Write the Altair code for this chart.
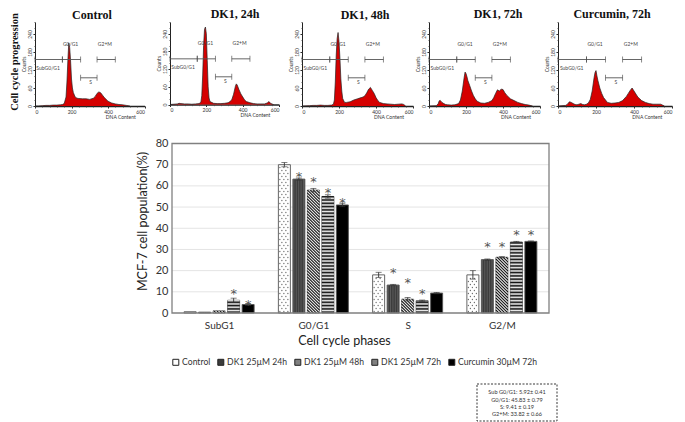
import json
import altair as alt
import pandas as pd

# ---------- flow cytometry histograms ----------
panel_titles = ["Control", "DK1, 24h", "DK1, 48h", "DK1, 72h", "Curcumin, 72h"]
dna_control = [0,20,40,60,80,100,120,140,150,160,170,175,180,185,190,195,200,205,210,220,230,240,260,280,300,320,330,340,350,360,370,380,400,420,440,460,480,500,510,520]
cnt_control = [0,0,1,2,2,3,3,4,5,8,30,80,150,210,195,150,90,60,45,30,26,25,24,24,22,26,32,42,47,44,36,28,16,10,7,5,4,2,1,0]
dna_24 = [0,20,40,50,60,80,100,120,140,160,170,175,180,185,190,195,200,205,210,215,220,240,260,280,300,320,330,340,350,360,365,370,380,390,400,410,420,440,460,480,500,520,535,545,555,570]
cnt_24 = [0,1,2,4,3,2,2,1,2,3,8,30,100,200,255,263,240,150,60,22,10,4,3,3,4,6,10,16,35,62,70,66,50,36,26,16,10,6,3,2,2,2,5,10,3,0]
dna_48 = [0,40,60,80,100,120,140,160,170,175,180,185,190,195,200,205,210,215,220,230,240,260,280,300,320,330,340,350,360,370,380,390,400,410,420,440,460,480,500,520,540,550,560]
cnt_48 = [0,1,2,2,3,2,2,3,6,20,80,170,225,245,215,160,90,50,25,12,12,14,20,24,28,30,34,44,56,62,52,42,28,18,12,8,7,6,5,6,7,5,0]
dna_72 = [0,40,50,55,60,70,80,90,100,120,140,160,170,180,190,195,200,205,210,220,230,240,250,260,280,300,320,340,350,360,370,380,390,400,410,420,440,460,480,500,520,540,560]
cnt_72 = [0,1,8,17,19,12,8,5,4,3,4,8,20,50,95,113,108,98,85,68,50,35,24,16,10,9,12,18,28,42,54,50,56,55,44,36,24,18,12,8,5,3,0]
dna_cur = [0,40,50,60,70,80,90,100,110,120,130,140,150,160,170,180,190,195,200,205,210,220,230,240,250,260,280,300,320,340,360,370,380,390,400,410,420,440,460,480,500,520,540,550,560]
cnt_cur = [0,2,6,14,12,8,5,4,6,8,5,4,6,10,22,50,95,112,118,100,85,60,42,28,20,12,9,10,12,18,32,42,52,60,50,40,30,18,12,8,6,6,6,3,0]
hist_dna = [dna_control, dna_24, dna_48, dna_72, dna_cur]
hist_cnt = [cnt_control, cnt_24, cnt_48, cnt_72, cnt_cur]

gate_start = [0, 150, 250, 340]
gate_end = [150, 250, 340, 440]
gate_level = [155, 155, 94, 155]
gate_names = ["SubG0/G1", "G0/G1", "S", "G2+M"]
gate_label_x = [72, 195, 305, 383]
gate_label_y = [127, 208, 80, 208]

# pixel placement of each small panel: x at DNA 0, x at DNA 600, y at count 0
panel_x0 = [35, 170, 302, 429, 558]
panel_x1 = [144.5, 279, 413, 540, 672]
panel_y0 = [106, 104.5, 106, 106, 106]
title_x = [92, 235, 365, 498, 612]
title_y = [15, 14, 14.5, 14, 14]

# ---------- bar chart ----------
phases = ["SubG1", "G0/G1", "S", "G2/M"]
series = ["Control", "DK1 25µM 24h", "DK1 25µM 48h", "DK1 25µM 72h", "Curcumin 30µM 72h"]
swatch = ["#ffffff", "#3c3c3c", "#808080", "#808080", "#000000"]
means = [
    [0.6, 0.4, 1.0, 6.0, 4.0],
    [70, 63.2, 58, 55, 51],
    [18, 13.2, 6.5, 5.8, 9.4],
    [18, 25.2, 26.3, 33.5, 33.8],
]
errors = [
    [0.0, 0.0, 0.0, 1.0, 0.4],
    [1.0, 0.5, 0.8, 0.8, 0.8],
    [1.2, 0.3, 0.8, 0.3, 0.3],
    [2.0, 0.3, 0.3, 0.3, 0.2],
]
star_phase = [0, 0, 1, 1, 1, 1, 2, 2, 2, 3, 3, 3, 3]
star_series = [3, 4, 1, 2, 3, 4, 1, 2, 3, 1, 2, 3, 4]
star_value = [10.3, 5.3, 65.7, 63.4, 58.2, 53.5, 20.2, 15.4, 10.5, 32.6, 32.8, 38.3, 38.1]
y_ticks = [0, 10, 20, 30, 40, 50, 60, 70, 80]
note_lines = ["Sub G0/G1: 5.92± 0.41", "G0/G1: 45.83 ± 0.79", "S: 9.41 ± 0.19", "G2+M: 33.82 ± 0.66"]

W, H = 669, 414
FONT = "Lato"
SERIF = "Liberation Serif"
TXT = "#333333"
px = lambda v: v - 8

layers = []


def label(text, x, y, **kw):
    style = dict(font=FONT, color=TXT, align="center", baseline="middle")
    style.update(kw)
    return alt.Chart().mark_text(text=text, **style).encode(x=alt.value(px(x)), y=alt.value(px(y)))


# ---------- small panels ----------
for i in range(5):
    xs = alt.Scale(domain=[0, 600], range=[px(panel_x0[i]), px(panel_x1[i])], nice=False, zero=False)
    ys = alt.Scale(domain=[0, 280], range=[px(panel_y0[i]), px(22)], nice=False, zero=False)
    ax_common = dict(labelFont=FONT, titleFont=FONT, labelFontSize=5, titleFontSize=5, titleFontWeight="normal",
                     labelColor=TXT, titleColor=TXT, grid=False, domainColor="#222222", tickColor="#222222",
                     tickSize=2, labelPadding=1)
    main_x = alt.Axis(orient="bottom", offset=px(panel_y0[i]) - H, values=[0, 200, 400, 600], title=None,
                      domainWidth=1.3, **ax_common)
    main_y = alt.Axis(orient="left", offset=-px(panel_x0[i]), values=[0, 60, 120, 180, 240], title="Counts",
                      labelAngle=-90, labelAlign="center", labelBaseline="bottom", titlePadding=1, **ax_common)
    minor_x = alt.Axis(orient="bottom", offset=px(panel_y0[i]) - H, values=list(range(0, 601, 40)), labels=False,
                       title=None, grid=False, tickSize=1.2, domain=False, tickColor="#444444", tickWidth=0.6)
    minor_y = alt.Axis(orient="left", offset=-px(panel_x0[i]), values=list(range(0, 281, 20)), labels=False,
                       title=None, grid=False, tickSize=1.2, domain=False, tickColor="#444444", tickWidth=0.6)
    hist = pd.DataFrame({"dna": hist_dna[i], "count": hist_cnt[i]})
    layers.append(alt.Chart(hist).mark_area(color="#d50000").encode(
        x=alt.X("dna:Q", scale=xs, axis=main_x), y=alt.Y("count:Q", scale=ys, axis=main_y, stack=None)))
    layers.append(alt.Chart(hist).mark_line(color="#222222", strokeWidth=0.7).encode(
        x=alt.X("dna:Q", scale=xs, axis=minor_x), y=alt.Y("count:Q", scale=ys, axis=minor_y)))
    gates = pd.DataFrame({"a": gate_start, "b": gate_end, "lvl": gate_level, "name": gate_names,
                          "lx": gate_label_x, "ly": gate_label_y})
    layers.append(alt.Chart(gates).mark_rule(color="#555555", strokeWidth=0.9).encode(
        x=alt.X("a:Q", scale=xs, axis=None), x2="b:Q", y=alt.Y("lvl:Q", scale=ys, axis=None)))
    for end in ("a", "b"):
        layers.append(alt.Chart(gates).mark_tick(orient="vertical", size=6, thickness=0.9, color="#444444").encode(
            x=alt.X(f"{end}:Q", scale=xs, axis=None), y=alt.Y("lvl:Q", scale=ys, axis=None)))
    layers.append(alt.Chart(gates).mark_text(font=FONT, fontSize=5, color="#444444").encode(
        x=alt.X("lx:Q", scale=xs, axis=None), y=alt.Y("ly:Q", scale=ys, axis=None), text="name:N"))
    axis_text = pd.DataFrame({"x": [470], "y": [-37], "t": ["DNA Content"]})
    layers.append(alt.Chart(axis_text).mark_text(font=FONT, fontSize=5, color=TXT).encode(
        x=alt.X("x:Q", scale=xs, axis=None), y=alt.Y("y:Q", scale=ys, axis=None), text="t:N"))
    layers.append(label(panel_titles[i], title_x[i], title_y[i], font=SERIF, fontWeight="bold", fontSize=12, color="#111111"))

layers.append(label("Cell cycle progression", 14.5, 62, font=SERIF, fontWeight="bold", fontSize=10.5, angle=270, color="#111111"))

# ---------- bar chart ----------
GX0, GX1, GY0, GY1 = 172, 549, 313, 143.5
PXX = (GX1 - GX0) / 4
PXY = (GY0 - GY1) / 80
BAR_W = 12 / PXX
BAR_STEP = 14.5 / PXX
bx = alt.Scale(domain=[0, 4], range=[px(GX0), px(GX1)], nice=False, zero=False)
by = alt.Scale(domain=[0, 80], range=[px(GY0), px(GY1)], nice=False, zero=False)


def left(p, s):
    return p + 0.5 + (s - 2) * BAR_STEP - BAR_W / 2


rows = []
for p in range(4):
    for s in range(5):
        rows.append(dict(phase=phases[p], series=series[s], l=left(p, s), r=left(p, s) + BAR_W,
                         c=left(p, s) + BAR_W / 2, v=means[p][s], lo=means[p][s] - errors[p][s],
                         hi=means[p][s] + errors[p][s], e=errors[p][s], base=0))
bars = pd.DataFrame(rows)

# hatching inside bars, derived from the bar values
dark, light, mid, dots = [], [], [], []
for _, b in bars.iterrows():
    sidx = series.index(b.series)
    hpx = b.v * PXY
    wpx = BAR_W * PXX
    if sidx == 0:
        yy = 1.5
        row = 0
        while yy < hpx - 1:
            xx = 1.5 + (row % 2) * 2
            while xx < wpx - 1:
                dots.append(dict(x=b.l + xx / PXX, y=yy / PXY))
                xx += 4
            yy += 3
            row += 1
    elif sidx == 1:
        xx = 1.0
        while xx < wpx:
            mid.append(dict(x=b.l + xx / PXX, x2=b.l + xx / PXX, y=0, y2=b.v))
            xx += 2.4
    elif sidx == 2:
        c = -wpx
        n = 0
        while c < hpx:
            x_a = max(0.0, c + wpx - hpx)
            x_b = min(wpx, c + wpx)
            if x_b > x_a:
                seg = dict(x=b.l + x_a / PXX, x2=b.l + x_b / PXX,
                           y=(c + wpx - x_a) / PXY, y2=(c + wpx - x_b) / PXY)
                (dark if n % 2 == 0 else light).append(seg)
            c += 1.5
            n += 1
    elif sidx == 3:
        yy = 0.8
        n = 0
        while yy < hpx:
            seg = dict(x=b.l, x2=b.r, y=yy / PXY, y2=yy / PXY)
            (dark if n % 2 == 0 else light).append(seg)
            yy += 1.65
            n += 1

frame = pd.DataFrame({"a": [0], "b": [4], "lo": [0], "hi": [80]})
grid = pd.DataFrame({"a": 0, "b": 4, "t": y_ticks[1:-1]})
stars = pd.DataFrame({"x": [left(p, s) + BAR_W / 2 for p, s in zip(star_phase, star_series)], "y": star_value})

layers.append(alt.Chart(grid).mark_rule(color="#e4e4e4", strokeWidth=1).encode(
    x=alt.X("a:Q", scale=bx, axis=None), x2="b:Q", y=alt.Y("t:Q", scale=by, axis=None)))

legend = alt.Legend(orient="none", legendX=px(171.5), legendY=px(358), direction="horizontal", columns=5,
                    gridAlign="none", title=None, symbolType="square", symbolSize=36, symbolStrokeColor="#222222",
                    symbolStrokeWidth=1, labelFont=FONT, labelFontSize=8.6, labelColor=TXT, columnPadding=5,
                    labelOffset=2)
layers.append(alt.Chart(bars).mark_rect(stroke="#555555", strokeWidth=0.9).encode(
    x=alt.X("l:Q", scale=bx, axis=None), x2="r:Q",
    y=alt.Y("base:Q", scale=by, axis=None), y2="v:Q",
    fill=alt.Fill("series:N", scale=alt.Scale(domain=series, range=swatch), sort=series, legend=legend)))

for rowsets, colour, sw in ((dark, "#000000", 0.85), (light, "#ffffff", 0.85), (mid, "#707070", 0.6)):
    df = pd.DataFrame(rowsets)
    layers.append(alt.Chart(df).mark_rule(color=colour, strokeWidth=sw).encode(
        x=alt.X("x:Q", scale=bx, axis=None), x2="x2:Q",
        y=alt.Y("y:Q", scale=by, axis=None), y2="y2:Q"))
layers.append(alt.Chart(pd.DataFrame(dots)).mark_point(filled=True, size=1.6, color="#666666", opacity=1).encode(
    x=alt.X("x:Q", scale=bx, axis=None), y=alt.Y("y:Q", scale=by, axis=None)))

errs = bars[bars.e > 0]
layers.append(alt.Chart(errs).mark_rule(color="#333333", strokeWidth=0.9).encode(
    x=alt.X("c:Q", scale=bx, axis=None), y=alt.Y("lo:Q", scale=by, axis=None), y2="hi:Q"))
for end in ("lo", "hi"):
    layers.append(alt.Chart(errs).mark_tick(orient="horizontal", size=6, thickness=0.9, color="#333333").encode(
        x=alt.X("c:Q", scale=bx, axis=None), y=alt.Y(f"{end}:Q", scale=by, axis=None)))

layers.append(alt.Chart(stars).mark_text(text="*", font="DejaVu Sans", fontSize=13, color="#555555",
                                         baseline="middle", dy=3).encode(
    x=alt.X("x:Q", scale=bx, axis=None), y=alt.Y("y:Q", scale=by, axis=None)))

expr = json.dumps(phases) + "[floor(datum.value)]"
layers.append(alt.Chart(frame).mark_rect(fill=None, stroke="#808080", strokeWidth=1.3).encode(
    x=alt.X("a:Q", scale=bx, axis=alt.Axis(
        orient="bottom", offset=px(GY0) - H, values=[0.5, 1.5, 2.5, 3.5], labelExpr=expr, tickSize=0, domain=False,
        grid=False, title="Cell cycle phases", titleX=px(344), labelFont=FONT, labelFontSize=10, labelColor=TXT,
        labelPadding=7, titleFont=FONT, titleFontSize=12.5, titleFontWeight="normal", titleColor="#222222",
        titlePadding=4)),
    x2="b:Q",
    y=alt.Y("lo:Q", scale=by, axis=alt.Axis(
        orient="left", offset=-px(GX0), values=y_ticks, tickSize=0, domain=False, grid=False,
        title="MCF-7 cell population(%)", titleY=px(221), labelFont=FONT, labelFontSize=11, labelColor=TXT,
        labelPadding=4, titleFont=FONT, titleFontSize=12.5, titleFontWeight="normal", titleColor="#222222",
        titlePadding=6)),
    y2="hi:Q"))

# ---------- dashed note box ----------
layers.append(alt.Chart().mark_rect(fill="#ffffff", stroke="#222222", strokeWidth=0.9, strokeDash=[2, 1.5]).encode(
    x=alt.value(px(477)), x2=alt.value(px(557)), y=alt.value(px(384)), y2=alt.value(px(421))))
for line, ly in zip(note_lines, [392, 399.5, 406.5, 414]):
    layers.append(label(line, 517, ly, fontSize=5.6, color="#333333"))

chart = alt.layer(*layers).resolve_scale(x="independent", y="independent").properties(
    width=W, height=H, padding=0, autosize=alt.AutoSizeParams(type="none"),
).configure_view(stroke=None)

chart.save("out.html", embed_options={"renderer": "svg", "actions": False})
